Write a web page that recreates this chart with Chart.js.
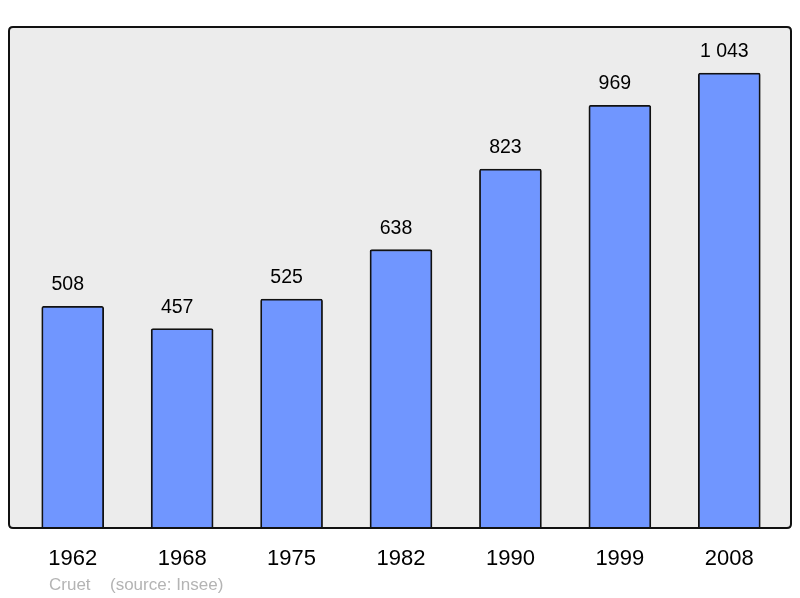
<!DOCTYPE html>
<html lang="fr">
<head>
  <meta charset="UTF-8">
  <title>Cruet - population</title>
  <script src="https://cdn.jsdelivr.net/npm/chart.js@4/dist/chart.umd.min.js"></script>
  <style>
    html, body { margin: 0; padding: 0; background: #fff; }
    #wrap { width: 800px; height: 598px; position: relative; }
  </style>
</head>
<body>
  <div id="wrap">
    <canvas id="chart" width="800" height="598"></canvas>
  </div>

  <script>
    // Données (source : Insee)
    const years = ['1962', '1968', '1975', '1982', '1990', '1999', '2008'];
    const population = [508, 457, 525, 638, 823, 969, 1043];
    const commune = 'Cruet';
    const sourceText = '(source: Insee)';

    const font = '"Liberation Sans", Arial, sans-serif';

    // "1 043" : espace comme séparateur des milliers
    function fmt(v) {
      return String(v).replace(/\B(?=(\d{3})+(?!\d))/g, ' ');
    }

    function roundRect(ctx, x, y, w, h, r) {
      ctx.beginPath();
      ctx.moveTo(x + r, y);
      ctx.lineTo(x + w - r, y);
      ctx.quadraticCurveTo(x + w, y, x + w, y + r);
      ctx.lineTo(x + w, y + h - r);
      ctx.quadraticCurveTo(x + w, y + h, x + w - r, y + h);
      ctx.lineTo(x + r, y + h);
      ctx.quadraticCurveTo(x, y + h, x, y + h - r);
      ctx.lineTo(x, y + r);
      ctx.quadraticCurveTo(x, y, x + r, y);
      ctx.closePath();
    }

    // fond gris du cadre, bordure, étiquettes
    const framePlugin = {
      id: 'frame',
      beforeDatasetsDraw(chart) {
        const ctx = chart.ctx;
        const a = chart.chartArea;
        ctx.save();
        roundRect(ctx, a.left - 9, a.top, a.right - a.left + 16, a.bottom - a.top, 4);
        ctx.fillStyle = '#ececec';
        ctx.fill();
        ctx.restore();
      },
      afterDatasetsDraw(chart) {
        const ctx = chart.ctx;
        const a = chart.chartArea;
        const x = chart.scales.x;
        const y = chart.scales.y;
        ctx.save();
        roundRect(ctx, a.left - 9, a.top, a.right - a.left + 16, a.bottom - a.top, 4);
        ctx.lineWidth = 2;
        ctx.strokeStyle = '#111';
        ctx.stroke();

        // valeurs au-dessus des barres (légèrement décalées à gauche comme l'original)
        ctx.fillStyle = '#000';
        ctx.textAlign = 'center';
        ctx.textBaseline = 'alphabetic';
        ctx.font = '19.5px ' + font;
        population.forEach((v, i) => {
          ctx.fillText(fmt(v), x.getPixelForValue(i) - 5, y.getPixelForValue(v) - 16);
        });

        ctx.font = '22px ' + font;
        years.forEach((yr, i) => {
          ctx.fillText(yr, x.getPixelForValue(i), a.bottom + 37);
        });

        ctx.fillStyle = '#b4b4b4';
        ctx.font = '17px ' + font;
        ctx.textAlign = 'left';
        ctx.fillText(commune, 49, 590);
        ctx.fillText(sourceText, 110, 590);
        ctx.restore();
      }
    };

    new Chart(document.getElementById('chart'), {
      type: 'bar',
      data: {
        labels: years,
        datasets: [{
          data: population,
          backgroundColor: '#7096ff',
          borderColor: '#111',
          borderWidth: 1.8,
          borderRadius: 2,
          borderSkipped: 'bottom',
          barThickness: 62
        }]
      },
      options: {
        responsive: false,
        animation: false,
        layout: { padding: { left: 18, right: 16, top: 27, bottom: 70 } },
        plugins: {
          legend: { display: false },
          tooltip: { enabled: false }
        },
        scales: {
          x: { display: false, offset: true },
          y: { display: false, min: 0, max: 1148.5 }
        }
      },
      plugins: [framePlugin]
    });
  </script>
</body>
</html>
